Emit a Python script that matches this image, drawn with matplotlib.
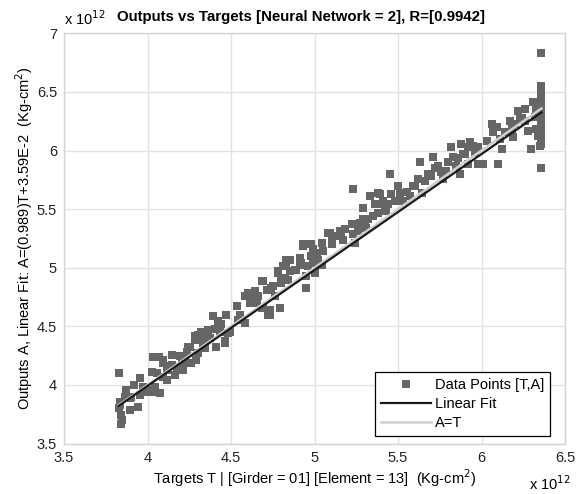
import matplotlib
matplotlib.use("Agg")
import matplotlib.pyplot as plt
import numpy as np

plt.rcParams['font.family'] = ['Liberation Sans', 'DejaVu Sans']

# Targets (x 1e12 Kg-cm^2)
targets = [
    3.828, 3.844, 3.834, 3.830, 3.844, 3.850, 3.834, 3.874, 3.864, 3.894,
    3.898, 3.944, 3.954, 3.958, 3.974, 3.994, 4.024, 4.024, 4.034, 4.044,
    4.074, 4.069, 4.093, 4.093, 4.114, 4.144, 4.144, 4.163, 4.174, 4.204,
    4.213, 4.234, 4.253, 4.263, 4.283, 4.293, 4.303, 4.323, 4.333, 3.904,
    4.014, 4.093, 4.114, 4.183, 4.243, 4.303, 4.323, 4.333, 4.343, 4.363,
    4.373, 4.393, 4.413, 4.423, 4.433, 4.463, 4.473, 4.483, 4.493, 4.533,
    4.543, 4.553, 4.583, 4.583, 4.602, 4.613, 4.623, 4.643, 4.653, 4.662,
    4.683, 4.692, 4.713, 4.722, 4.732, 4.752, 4.762, 4.792, 4.782, 4.812,
    4.822, 4.832, 4.802, 4.832, 4.852, 4.842, 4.882, 4.912, 4.922, 4.932,
    4.952, 4.962, 4.982, 4.992, 5.002, 5.022, 5.032, 5.042, 5.051, 5.092,
    5.102, 5.141, 5.151, 5.171, 5.181, 5.222, 5.231, 5.231, 5.241, 5.261,
    5.291, 5.291, 5.301, 5.311, 5.331, 5.351, 5.361, 5.381, 5.381, 5.381,
    5.391, 5.411, 5.431, 5.451, 5.461, 5.481, 5.501, 5.511, 5.531, 5.571,
    5.601, 5.620, 5.631, 5.641, 5.680, 5.710, 5.720, 5.740, 5.760, 5.770,
    5.790, 5.820, 5.830, 5.850, 5.870, 5.880, 5.900, 5.920, 5.890, 5.920,
    5.930, 5.950, 5.980, 5.980, 6.010, 6.099, 6.060, 6.070, 6.090, 6.110,
    6.120, 6.140, 6.169, 6.180, 6.189, 6.219, 6.229, 6.259, 6.259, 6.279,
    6.299, 6.309, 6.319, 6.329, 6.339, 6.349, 6.359, 6.359, 6.359, 6.359,
    6.359, 6.359, 6.359, 6.359, 6.359, 6.349, 6.329, 6.359, 6.359, 6.359,
    6.359, 6.359,
    4.283, 4.463, 4.493, 4.613, 4.623, 4.683, 4.692, 4.732, 4.742, 4.792,
    4.782, 4.802, 4.832, 4.852, 4.892, 4.912, 4.932, 4.952, 4.982, 5.012,
    4.992, 5.042, 5.081, 5.102, 5.151, 5.161, 5.231, 3.920, 3.980, 4.054,
    4.124, 4.194, 4.223, 4.353, 4.403, 4.443, 5.271, 5.321, 5.421, 5.441,
    5.551, 5.591, 5.661, 5.700, 5.800, 5.860, 5.960, 6.030, 6.200, 6.240,
]

# Outputs (x 1e12 Kg-cm^2)
outputs = [
    4.100, 3.666, 3.857, 3.803, 3.743, 3.700, 3.829, 3.957, 3.900, 3.786,
    3.889, 3.809, 3.914, 4.057, 3.985, 3.943, 4.114, 3.943, 4.242, 3.985,
    3.929, 4.242, 4.186, 4.071, 4.128, 4.257, 4.171, 4.086, 4.157, 4.214,
    4.128, 4.285, 4.328, 4.186, 4.385, 4.214, 4.271, 4.443, 4.328, 3.897,
    3.957, 4.214, 4.043, 4.157, 4.328, 4.428, 4.456, 4.385, 4.314, 4.471,
    4.400, 4.585, 4.328, 4.542, 4.456, 4.371, 4.599, 4.443, 4.456, 4.670,
    4.557, 4.599, 4.528, 4.756, 4.785, 4.699, 4.742, 4.799, 4.699, 4.756,
    4.657, 4.884, 4.813, 4.599, 4.642, 4.842, 4.756, 4.657, 4.956, 5.013,
    4.914, 5.070, 4.871, 5.056, 4.970, 4.899, 4.985, 5.085, 5.042, 5.199,
    4.927, 5.013, 5.098, 5.156, 4.956, 5.070, 5.027, 5.213, 5.141, 5.299,
    5.256, 5.270, 5.312, 5.241, 5.327, 5.370, 5.670, 5.284, 5.213, 5.312,
    5.513, 5.413, 5.370, 5.342, 5.612, 5.441, 5.541, 5.641, 5.470, 5.541,
    5.627, 5.569, 5.484, 5.798, 5.627, 5.569, 5.698, 5.641, 5.569, 5.612,
    5.698, 5.755, 5.898, 5.641, 5.798, 5.941, 5.855, 5.869, 5.813, 5.755,
    5.827, 6.027, 5.941, 5.869, 5.798, 6.055, 5.969, 6.027, 5.969, 5.884,
    6.069, 6.040, 6.027, 5.884, 5.884, 5.884, 6.226, 6.155, 6.198, 6.098,
    6.012, 6.155, 6.254, 6.183, 6.112, 6.340, 6.269, 6.355, 6.254, 6.169,
    6.012, 6.412, 6.283, 6.183, 6.126, 6.040, 6.554, 6.440, 6.355, 6.269,
    6.183, 6.112, 6.055, 5.855, 6.834, 6.397, 6.355, 6.500, 6.400, 6.300,
    6.220, 6.150,
    4.414, 4.357, 4.456, 4.785, 4.728, 4.884, 4.657, 4.599, 4.828, 4.657,
    4.970, 4.899, 5.042, 5.070, 4.985, 5.027, 5.184, 4.828, 5.199, 5.128,
    5.042, 5.027, 5.299, 5.199, 5.312, 5.285, 5.370, 4.000, 3.960, 4.100,
    4.160, 4.250, 4.200, 4.420, 4.480, 4.520, 5.380, 5.420, 5.500, 5.540,
    5.650, 5.700, 5.740, 5.780, 5.900, 5.940, 5.980, 6.080, 6.230, 6.280,
]

fit_slope = 0.989
fit_intercept = 0.0359
r_value = 0.9942

fig = plt.figure(figsize=(5.78, 4.94), dpi=100)
ax = fig.add_axes([64 / 578, 1 - 443.6 / 494, 501 / 578, 410.3 / 494])

ax.plot(targets, outputs, linestyle='none', marker='s', markersize=6.2,
        color='#666666', markeredgewidth=0, label='Data Points [T,A]', zorder=3)

t_line = np.array([min(targets), max(targets)])
ax.plot(t_line, t_line, color='#cfcfcf', lw=1.8, label='A=T', zorder=4)
ax.plot(t_line, fit_slope * t_line + fit_intercept, color='#1a1a1a', lw=1.6,
        label='Linear Fit', zorder=5)

ax.set_xlim(3.5, 6.5)
ax.set_ylim(3.5, 7.0)
ax.set_xticks([3.5, 4, 4.5, 5, 5.5, 6, 6.5])
ax.set_xticklabels(['3.5', '4', '4.5', '5', '5.5', '6', '6.5'])
ax.set_yticks([3.5, 4, 4.5, 5, 5.5, 6, 6.5, 7])
ax.set_yticklabels(['3.5', '4', '4.5', '5', '5.5', '6', '6.5', '7'])
ax.grid(True, color='#e2e2e2', lw=1.0, zorder=0)
ax.set_axisbelow(True)
for s in ax.spines.values():
    s.set_color('#d4d4d4')
    s.set_linewidth(1.0)
ax.tick_params(length=0, labelsize=10.5, pad=5, colors='#222222')

ax.set_title('Outputs vs Targets [Neural Network = 2], R=[%.4f]' % r_value,
             fontsize=10.8, fontweight='bold', pad=9, x=0.473)
ax.set_xlabel('Targets T | [Girder = 01] [Element = 13]  (Kg-cm$^2$)',
              fontsize=10.5, labelpad=2)
ax.set_ylabel('Outputs A, Linear Fit: A=(%.3f)T+3.59E-2  (Kg-cm$^2$)' % fit_slope,
              fontsize=10.5, labelpad=1)

ax.text(0.0, 1.012, 'x 10$^{12}$', transform=ax.transAxes, ha='left',
        va='bottom', fontsize=10.5)
ax.text(1.012, -0.098, 'x 10$^{12}$', transform=ax.transAxes, ha='right',
        va='center', fontsize=10.5)

h, l = ax.get_legend_handles_labels()
order = [0, 2, 1]
leg = ax.legend([h[i] for i in order], [l[i] for i in order],
                loc='lower right', bbox_to_anchor=(0.97, 0.0185),
                borderaxespad=0, fontsize=10.5, fancybox=False, framealpha=1,
                edgecolor='black', handlelength=3.4, numpoints=1,
                borderpad=0.4, labelspacing=0.35, handletextpad=0.3)
leg.get_frame().set_linewidth(0.9)

fig.savefig('out.png', dpi=100)
